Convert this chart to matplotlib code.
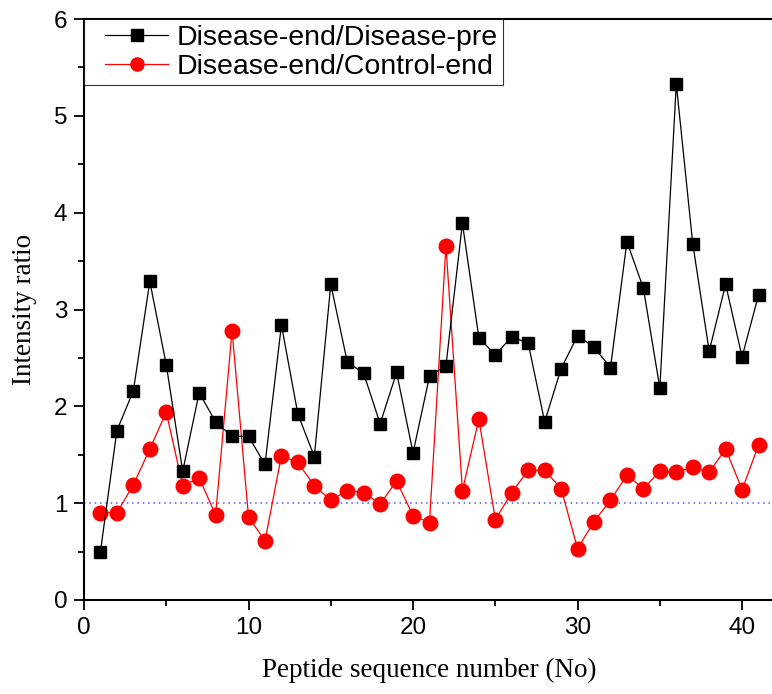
import matplotlib
matplotlib.use("Agg")
import matplotlib.pyplot as plt
from matplotlib.ticker import MultipleLocator
from matplotlib.legend_handler import HandlerLine2D

peptide_no = list(range(1, 42))
disease_end_pre = [0.50, 1.75, 2.16, 3.29, 2.43, 1.33, 2.14, 1.84, 1.69, 1.69,
                   1.40, 2.84, 1.92, 1.48, 3.26, 2.46, 2.34, 1.82, 2.35, 1.52,
                   2.31, 2.42, 3.89, 2.71, 2.53, 2.72, 2.65, 1.84, 2.39, 2.73,
                   2.61, 2.40, 3.70, 3.22, 2.19, 5.33, 3.68, 2.57, 3.26, 2.51, 3.15]
disease_end_control = [0.90, 0.90, 1.19, 1.56, 1.94, 1.18, 1.26, 0.88, 2.78, 0.86,
                       0.61, 1.49, 1.42, 1.18, 1.03, 1.13, 1.11, 0.99, 1.23, 0.87,
                       0.80, 3.66, 1.13, 1.87, 0.83, 1.11, 1.34, 1.34, 1.15, 0.53,
                       0.81, 1.03, 1.29, 1.15, 1.33, 1.32, 1.37, 1.32, 1.56, 1.14, 1.60]
series_labels = ["Disease-end/Disease-pre", "Disease-end/Control-end"]
reference_ratio = 1.0

W, H = 772, 694
fig = plt.figure(figsize=(W / 100, H / 100), dpi=100)
ax = fig.add_axes([84 / W, (H - 600) / H, 691 / W, 581 / H])

ax.axhline(reference_ratio, color="#5555ff", linestyle=(0, (1, 2.5)), linewidth=1.1, zorder=1)
l1, = ax.plot(peptide_no, disease_end_pre, color="black", linewidth=0.9, marker="s",
              markersize=9, markeredgecolor="black", markerfacecolor="black",
              label=series_labels[0], zorder=3)
l2, = ax.plot(peptide_no, disease_end_control, color="red", linewidth=0.9, marker="o",
              markersize=10.5, markeredgecolor="red", markerfacecolor="red",
              label=series_labels[1], zorder=2)

ax.set_xlim(0, 42)
ax.set_ylim(0, 6)
ax.xaxis.set_major_locator(MultipleLocator(10))
ax.xaxis.set_minor_locator(MultipleLocator(5))
ax.yaxis.set_major_locator(MultipleLocator(1))
ax.yaxis.set_minor_locator(MultipleLocator(0.5))
ax.tick_params(which="major", direction="out", length=7, width=1.3, labelsize=17.5, pad=5)
ax.tick_params(which="minor", direction="out", length=4, width=1.3)
for lab in ax.get_xticklabels() + ax.get_yticklabels():
    lab.set_family("Liberation Sans")
for s in ax.spines.values():
    s.set_linewidth(1.5)
ax.spines["right"].set_visible(False)

ax.set_xlabel("Peptide sequence number (No)", family="Liberation Serif", fontsize=19.5, labelpad=14)
ax.set_ylabel("Intensity ratio", family="Liberation Serif", fontsize=19.5, labelpad=12)

hmap = {l1: HandlerLine2D(xpad=0.55), l2: HandlerLine2D(xpad=0.55)}
leg = ax.legend(loc="upper left", bbox_to_anchor=(0, 1), borderaxespad=0,
                prop={"family": "Liberation Sans", "size": 20.5}, frameon=True,
                fancybox=False, handlelength=2.75, handletextpad=0.3,
                borderpad=0.2, labelspacing=0.1, markerscale=0.9, handler_map=hmap)
leg.get_frame().set_edgecolor("black")
leg.get_frame().set_linewidth(0.8)

fig.savefig("out.png", dpi=100)
